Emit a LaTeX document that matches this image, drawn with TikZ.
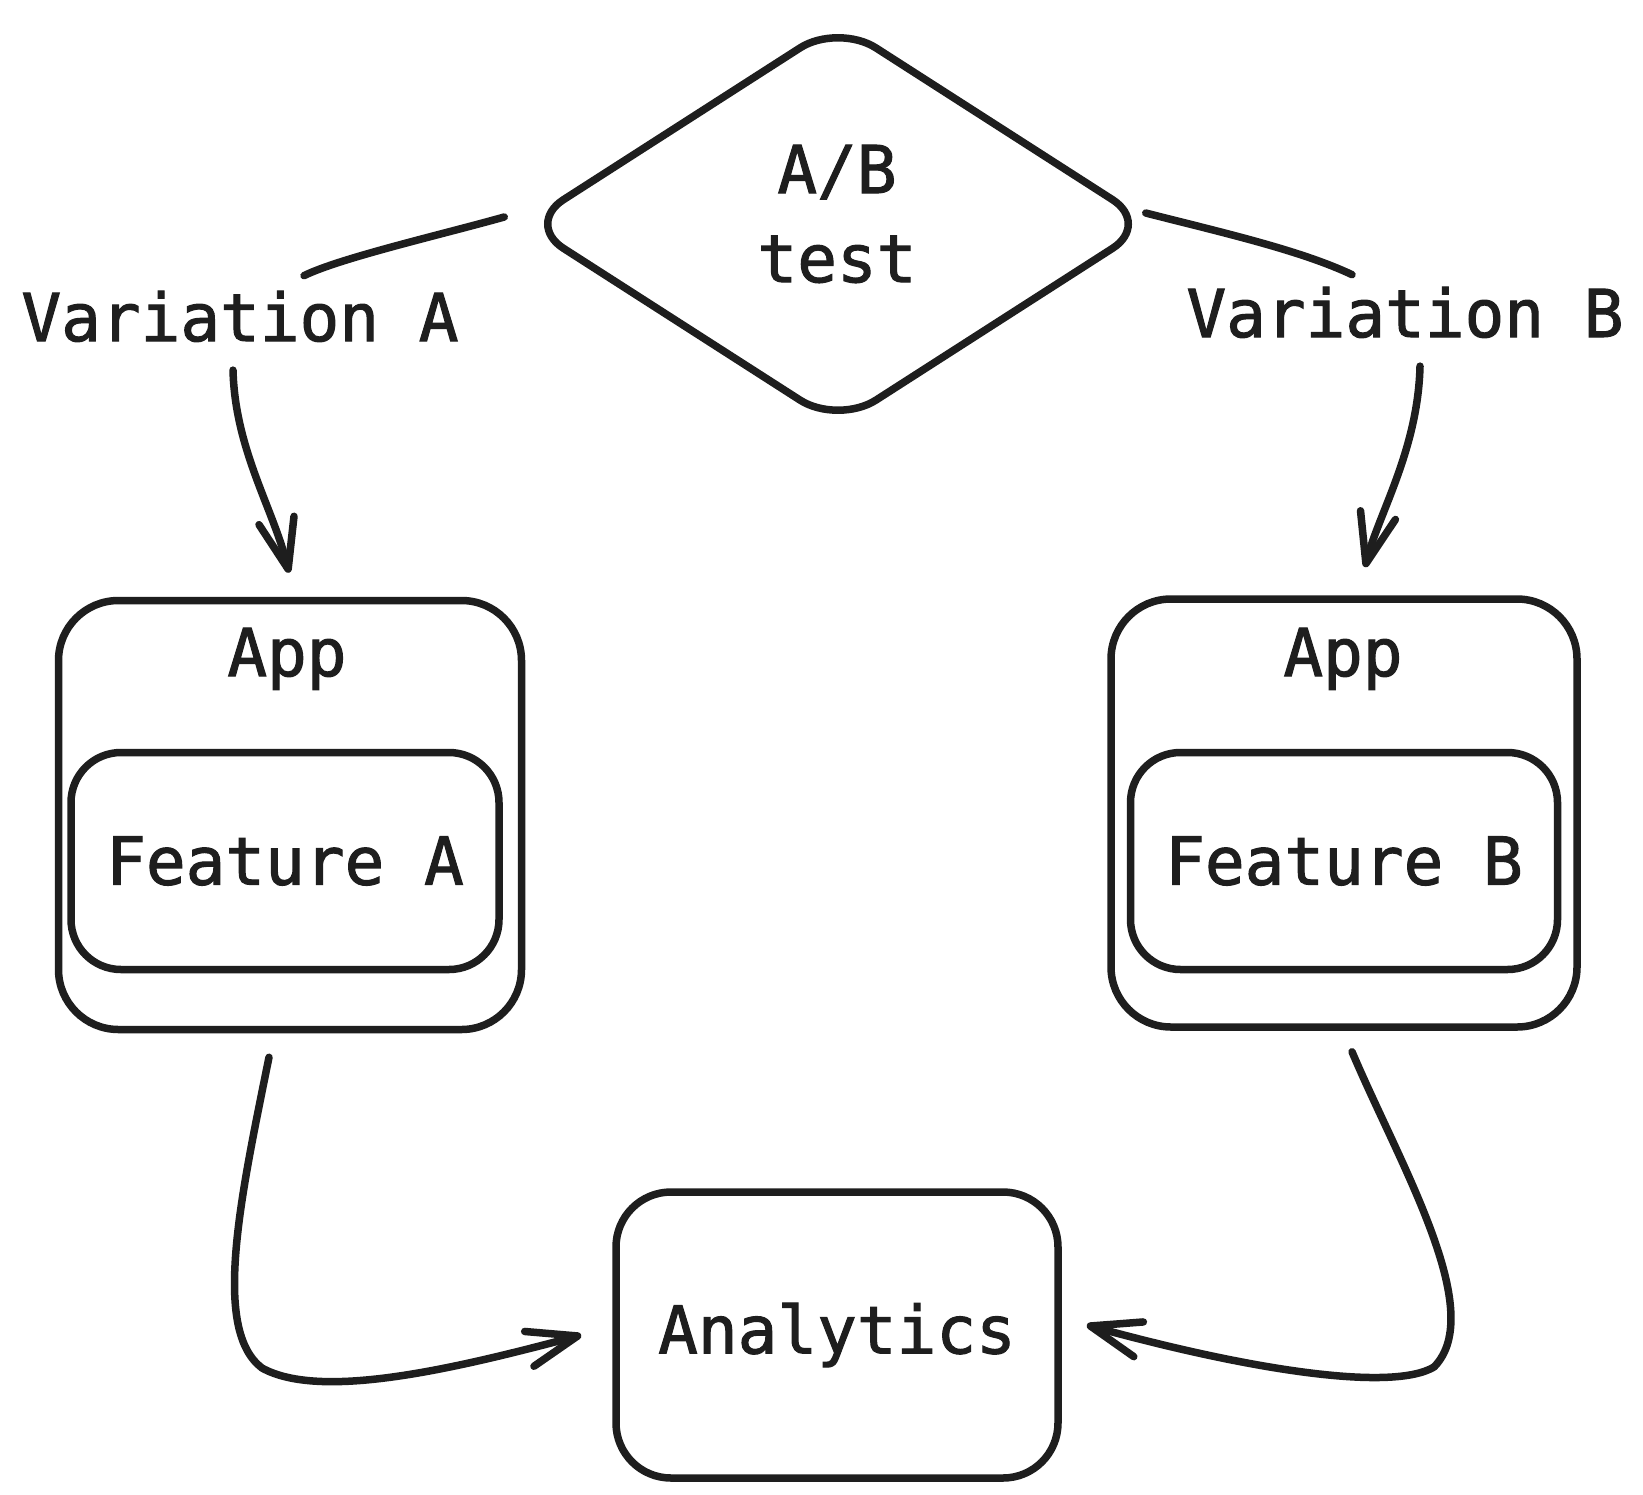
\documentclass[tikz,border=0pt]{standalone}
\usepackage{fontspec}
\usetikzlibrary{shapes.geometric,arrows.meta}
\newfontfamily\handfont[FakeBold=1.6]{DejaVu Sans Mono}
\definecolor{ink}{HTML}{1E1E1E}

\begin{document}
\begin{tikzpicture}[x=1pt, y=-1pt, draw=ink,
    every node/.style={font=\handfont\fontsize{66}{89}\selectfont, text=ink},
    lbl/.style={inner sep=0pt, anchor=base},
    box/.style={draw, line width=7.5pt, rounded corners=55pt, inner sep=0pt},
    decision/.style={draw, diamond, line width=7.5pt, rounded corners=45pt, inner sep=0pt},
    conn/.style={line width=7.5pt, line cap=round, line join=round},
    arr/.style={conn, -{Straight Barb[length=50pt,width=36pt,round]}}]
    \fill[white] (0,0) rectangle (1643,1494);
    \useasboundingbox (0,0) rectangle (1643,1494);

    % A/B test diamond
    \node[decision, minimum width=628pt, minimum height=404pt] (abtest) at (838,224) {};
    \node[align=center, inner sep=0pt] (abLabel) at (837,214) {A/B\\test};

    % Variation labels
    \node[lbl] (varA) at (240,341) {Variation A};
    \node[lbl] (varB) at (1405,337) {Variation B};

    % App boxes with features
    \node[box, rounded corners=60pt, minimum width=463pt, minimum height=429pt] (appA) at (290,815) {};
    \node[lbl] (appTitleA) at (287,676) {App};
    \node[box, rounded corners=50pt, minimum width=428pt, minimum height=217pt] (featA) at (285,861) {Feature A};

    \node[box, rounded corners=60pt, minimum width=466pt, minimum height=428pt] (appB) at (1344,813) {};
    \node[lbl] (appTitleB) at (1343,676) {App};
    \node[box, rounded corners=50pt, minimum width=427pt, minimum height=217pt] (featB) at (1344,861) {Feature B};

    % Analytics box
    \node[box, minimum width=442pt, minimum height=286pt] (analytics) at (837,1335) {Analytics};

    % Diamond to variations
    \draw[conn] ([shift={(-16,-7)}]abtest.west) .. controls (440,235) and (340,258) .. ([shift={(64,-15)}]varA.north);
    \draw[conn] ([shift={(-10,-11)}]abtest.east) .. controls (1220,232) and (1300,250) .. ([shift={(-53,-12)}]varB.north);

    % Variations to apps
    \draw[arr] ([shift={(-7,28)}]varA.south) .. controls (235,450) and (274,510) .. ([shift={(-1,-24)}]appA.north);
    \draw[arr] ([shift={(15,28)}]varB.south) .. controls (1418,450) and (1378,515) .. ([shift={(21,-28)}]appB.north);

    % Apps to analytics
    \draw[arr] ([shift={(-21,24)}]appA.south) .. controls (240,1200) and (212,1330) .. (262,1368)
        .. controls (320,1400) and (450,1370) .. ([shift={(-31,0)}]analytics.west);
    \draw[arr] ([shift={(8,21)}]appB.south) .. controls (1400,1165) and (1488,1312) .. (1434,1367)
        .. controls (1392,1392) and (1250,1370) .. ([shift={(25,-10)}]analytics.east);
\end{tikzpicture}
\end{document}
